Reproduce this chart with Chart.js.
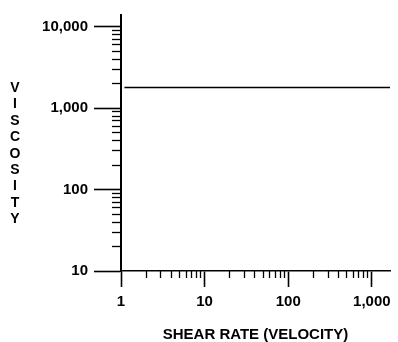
<!DOCTYPE html>
<html>
<head>
<meta charset="utf-8">
<script src="https://cdn.jsdelivr.net/npm/chart.js@4"></script>
<style>
    body { margin: 0; background: #fff; }
    #wrap { position: relative; width: 398px; height: 342px; }
    #yTitle {
        position: absolute; left: 5px; top: 79px; width: 20px;
        font: bold 14px "Liberation Sans", Arial, sans-serif;
        line-height: 16.4px; text-align: center; color: #000;
    }
</style>
</head>
<body>
<div id="wrap">
    <canvas id="chart"></canvas>
    <div id="yTitle"></div>
</div>
<script>
// Dane wykresu
const xMajorTicks = [1, 10, 100, 1000];
const yMajorTicks = [10, 100, 1000, 10000];
const xMinorTicks = [2, 3, 4, 5, 6, 7, 8, 9, 20, 30, 40, 50, 60, 70, 80, 90, 200, 300, 400, 500, 600, 700, 800, 900];
const yMinorTicks = [20, 30, 40, 50, 60, 70, 80, 90, 200, 300, 400, 500, 600, 700, 800, 900, 2000, 3000, 4000, 5000, 6000, 7000, 8000, 9000];
const shearRate = [1.1, 1650];
const viscosity = [1800, 1800];
const xRange = [1, 1650];
const yRange = [10, 14000];
const xTitle = 'SHEAR RATE (VELOCITY)';
const yTitle = 'VISCOSITY';

// Pionowy tytuł osi Y - litery jedna pod drugą
document.getElementById('yTitle').innerHTML = yTitle.split('').join('<br>');

const tickFont = { family: '"Liberation Sans", Arial, sans-serif', size: 15, weight: 'bold', lineHeight: 1.2 };

function setTicks(values) {
    return scale => { scale.ticks = values.map(v => ({ value: v })); };
}

function fmt(value) {
    return Number(value).toLocaleString('en-US');
}

const ctx = document.getElementById('chart').getContext('2d');
new Chart(ctx, {
    type: 'line',
    data: {
        datasets: [{
            data: shearRate.map((x, i) => ({ x: x, y: viscosity[i] })),
            borderColor: '#000',
            borderWidth: 1.6,
            pointRadius: 0,
            fill: false,
            xAxisID: 'x',
            yAxisID: 'y'
        }]
    },
    options: {
        responsive: true,
        maintainAspectRatio: false,
        animation: false,
        layout: { padding: { left: 0, top: 11, right: 8, bottom: 0 } },
        plugins: {
            legend: { display: false },
            tooltip: { enabled: false }
        },
        scales: {
            x: {
                type: 'logarithmic',
                position: 'bottom',
                min: xRange[0],
                max: xRange[1],
                afterBuildTicks: setTicks(xMajorTicks),
                afterFit: scale => { scale.height = 71; },
                border: { display: true, color: '#000', width: 1.6 },
                grid: { drawOnChartArea: false, drawTicks: true, tickLength: 16, tickColor: '#000', tickWidth: 1.6 },
                ticks: {
                    color: '#000', font: tickFont, padding: 6,
                    maxRotation: 0, autoSkip: false,
                    callback: v => fmt(v)
                },
                title: {
                    display: true,
                    text: xTitle,
                    color: '#000',
                    font: { family: '"Liberation Sans", Arial, sans-serif', size: 15, weight: 'bold', lineHeight: 1 },
                    padding: 0
                }
            },
            y: {
                type: 'logarithmic',
                position: 'left',
                min: yRange[0],
                max: yRange[1],
                afterBuildTicks: setTicks(yMajorTicks),
                afterFit: scale => { scale.width = 121; },
                border: { display: true, color: '#000', width: 2 },
                grid: { drawOnChartArea: false, drawTicks: true, tickLength: 27, tickColor: '#000', tickWidth: 1.6 },
                ticks: {
                    color: '#000', font: tickFont, padding: 6, autoSkip: false,
                    callback: v => fmt(v)
                }
            },
            xMinor: {
                type: 'logarithmic',
                axis: 'x',
                position: { y: yRange[0] },
                min: xRange[0],
                max: xRange[1],
                afterBuildTicks: setTicks(xMinorTicks),
                border: { display: false },
                grid: { drawOnChartArea: false, drawTicks: true, tickLength: 7, tickColor: '#000', tickWidth: 1.3 },
                ticks: { display: false, autoSkip: false }
            },
            yMinor: {
                type: 'logarithmic',
                axis: 'y',
                position: { x: xRange[0] },
                min: yRange[0],
                max: yRange[1],
                afterBuildTicks: setTicks(yMinorTicks),
                border: { display: false },
                grid: { drawOnChartArea: false, drawTicks: true, tickLength: 9, tickColor: '#000', tickWidth: 1.3 },
                ticks: { display: false, autoSkip: false }
            }
        }
    }
});
</script>
</body>
</html>
